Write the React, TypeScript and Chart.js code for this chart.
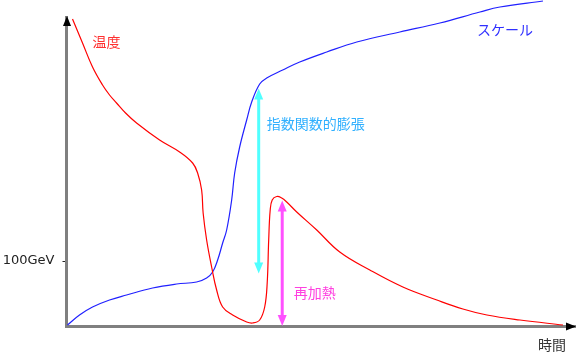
import React, { useEffect, useRef } from "react";
import { Chart, registerables } from "chart.js";

Chart.register(...registerables);

// Time (arbitrary units)
const temperatureTime = [6, 16, 26, 36, 43, 50, 59, 70, 93, 113, 126, 131, 135, 136.5, 140, 145, 150, 156, 166, 180, 186, 193, 198, 200.5, 202, 203.5, 205.5, 210, 215, 220, 230, 250, 273, 303, 336, 370, 396, 420, 453, 496];
const temperatureValue = [307, 283, 259, 241, 231, 223, 213, 203, 186, 174, 163, 153, 136, 113, 86, 59, 36, 19, 11, 4, 3, 6, 19, 43, 86, 116, 126, 129.5, 128, 124, 114, 96, 74, 56, 39, 26, 17, 11, 6, 1];

const scaleTime = [1, 13, 26, 43, 60, 86, 110, 130, 140, 146, 151, 156, 160, 165, 168, 173, 180, 185, 193, 200, 216, 233, 260, 290, 333, 373, 413, 433, 476];
const scaleValue = [1, 11, 19, 26, 31, 38, 42, 44, 48, 54, 66, 83, 96, 126, 153, 179, 206, 224, 242, 248, 256, 264, 274, 284, 294, 303, 314, 319, 325];

const yTickValues = [65];
const yTickLabels = ["100GeV"];

const xMax = 509;
const yMax = 309;

// Annotation arrows: [time, from value, to value]
const expansionArrow = [192, 52.5, 237.5];
const reheatArrow = [215.5, 0, 125.5];

// Labels: [text, time, value]
const seriesLabels: [string, number, number, string][] = [
  ["温度", 26, 284, "#ff3030"],
  ["スケール", 410, 296, "#3030ff"],
  ["指数関数的膨張", 200, 202, "#30b0ff"],
  ["再加熱", 227, 33, "#ff40e0"],
];
const xAxisTitle = "時間";

const JP_FONT = '"Noto Sans CJK JP", "Noto Sans", sans-serif';

function drawHead(ctx: CanvasRenderingContext2D, x: number, tipY: number, dir: number) {
  ctx.beginPath();
  ctx.moveTo(x, tipY);
  ctx.lineTo(x - 4.5, tipY - dir * 11);
  ctx.lineTo(x + 4.5, tipY - dir * 11);
  ctx.closePath();
  ctx.fill();
}

function doubleArrow(ctx: CanvasRenderingContext2D, x: number, yTop: number, yBot: number, color: string) {
  ctx.strokeStyle = color;
  ctx.fillStyle = color;
  ctx.lineWidth = 3;
  ctx.beginPath();
  ctx.moveTo(x, yTop + 9);
  ctx.lineTo(x, yBot - 9);
  ctx.stroke();
  drawHead(ctx, x, yTop, -1);
  drawHead(ctx, x, yBot, 1);
}

const overlay = {
  id: "overlay",
  afterDraw(chart: any) {
    const { ctx, chartArea, scales } = chart;
    const xs = scales.x;
    const ys = scales.y;
    ctx.save();
    ctx.fillStyle = "#000";
    const axX = chartArea.left + 0.5;
    ctx.beginPath();
    ctx.moveTo(axX, chartArea.top - 1);
    ctx.lineTo(axX - 4, chartArea.top + 9);
    ctx.lineTo(axX + 4, chartArea.top + 9);
    ctx.closePath();
    ctx.fill();
    const axY = chartArea.bottom + 0.5;
    ctx.beginPath();
    ctx.moveTo(chartArea.right, axY);
    ctx.lineTo(chartArea.right - 10, axY - 4);
    ctx.lineTo(chartArea.right - 10, axY + 4);
    ctx.closePath();
    ctx.fill();

    doubleArrow(
      ctx,
      xs.getPixelForValue(expansionArrow[0]),
      ys.getPixelForValue(expansionArrow[2]),
      ys.getPixelForValue(expansionArrow[1]),
      "#50ffff"
    );
    doubleArrow(
      ctx,
      xs.getPixelForValue(reheatArrow[0]),
      ys.getPixelForValue(reheatArrow[2]),
      ys.getPixelForValue(reheatArrow[1]),
      "#ff50ff"
    );

    ctx.font = `14px ${JP_FONT}`;
    ctx.textAlign = "left";
    ctx.textBaseline = "middle";
    for (const [text, t, v, color] of seriesLabels) {
      ctx.fillStyle = color;
      ctx.fillText(text, xs.getPixelForValue(t), ys.getPixelForValue(v));
    }
    ctx.fillStyle = "#333";
    ctx.textAlign = "right";
    ctx.fillText(xAxisTitle, chartArea.right - 10, chartArea.bottom + 19);
    ctx.restore();
  },
};

export default function App() {
  const ref = useRef<HTMLCanvasElement | null>(null);
  useEffect(() => {
    document.body.style.margin = "0";
    const canvas = ref.current;
    if (!canvas) return;
    const chart = new Chart(canvas, {
      type: "line",
      data: {
        datasets: [
          {
            label: "温度",
            data: temperatureTime.map((t, i) => ({ x: t, y: temperatureValue[i] })),
            borderColor: "#ff0000",
            borderWidth: 1.2,
            pointRadius: 0,
            tension: 0.4,
            clip: false as any,
          },
          {
            label: "スケール",
            data: scaleTime.map((t, i) => ({ x: t, y: scaleValue[i] })),
            borderColor: "#2020ff",
            borderWidth: 1.2,
            pointRadius: 0,
            tension: 0.4,
            clip: false as any,
          },
        ],
      },
      options: {
        animation: false,
        responsive: false,
        layout: { padding: { top: 17, right: 0, bottom: 0, left: 0 } },
        plugins: { legend: { display: false }, tooltip: { enabled: false } },
        scales: {
          x: {
            type: "linear",
            min: 0,
            max: xMax,
            grid: { display: false },
            ticks: { display: false },
            border: { display: true, color: "#808080", width: 3 },
            afterFit: (s: any) => {
              s.height = 30;
            },
          },
          y: {
            type: "linear",
            min: 0,
            max: yMax,
            afterBuildTicks: (s: any) => {
              s.ticks = yTickValues.map((v) => ({ value: v }));
            },
            afterFit: (s: any) => {
              s.width = 66.5;
            },
            grid: {
              display: true,
              drawOnChartArea: false,
              drawTicks: true,
              tickLength: 4,
              color: "#222",
              lineWidth: 1,
            },
            ticks: {
              padding: 8,
              color: "#222",
              font: { family: '"DejaVu Sans", sans-serif', size: 13 },
              callback: (_v: any, i: number) => yTickLabels[i],
            },
            border: { display: true, color: "#808080", width: 3 },
          },
        },
      },
      plugins: [overlay],
    });
    return () => chart.destroy();
  }, []);
  return (
    <div style={{ position: "absolute", left: 0, top: 0, width: 576, height: 356, background: "#fff" }}>
      <canvas ref={ref} width={576} height={356} style={{ display: "block" }} />
    </div>
  );
}
